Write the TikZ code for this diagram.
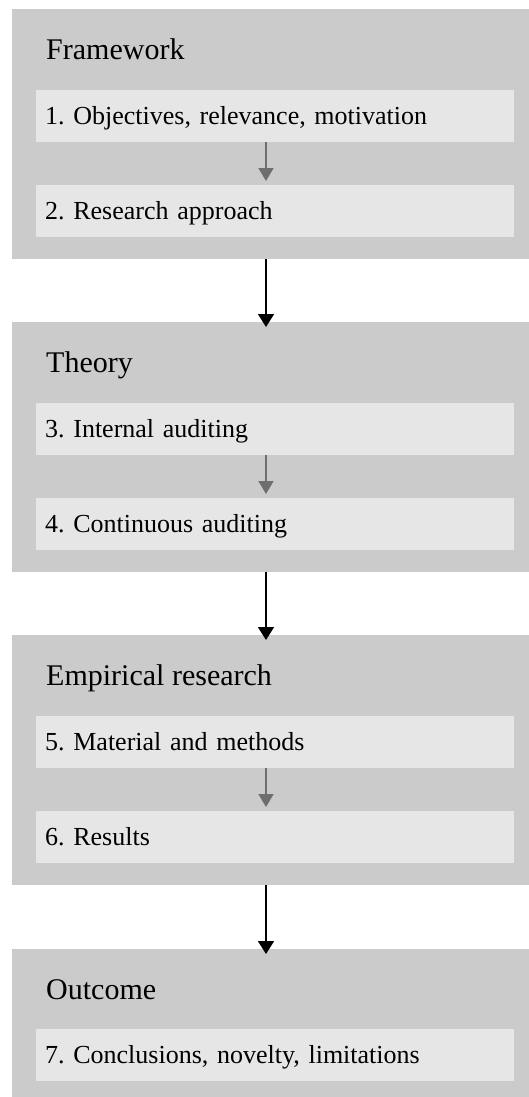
\documentclass[tikz,border=0pt]{standalone}
\usepackage{fontspec}
\setmainfont{Liberation Serif}
\usetikzlibrary{arrows.meta,calc}
\definecolor{outergray}{HTML}{CBCBCB}
\definecolor{innergray}{HTML}{E6E6E6}
\definecolor{arrowgray}{HTML}{6E6E6E}
\frenchspacing
\begin{document}
\begin{tikzpicture}[x=1pt,y=-1pt,
  outerbox/.style={fill=outergray, draw=none, anchor=north west, inner sep=0pt, minimum width=528pt, minimum height=250pt},
  innerbox/.style={fill=innergray, draw=none, anchor=north west, inner sep=0pt, minimum width=478pt, minimum height=52pt, text width=460pt, align=left, text height=17pt, text depth=0pt, font=\fontsize{26}{30}\selectfont},
  titletext/.style={anchor=base west, inner sep=0pt, font=\fontsize{30}{36}\selectfont},
  bigarrow/.style={-{Triangle[width=16pt,length=13pt]}, line width=1.6pt, black},
  smallarrow/.style={-{Triangle[width=15pt,length=13pt]}, line width=1.6pt, arrowgray, shorten >=4pt}
]
\useasboundingbox (0,0) rectangle (528,1097);
\coordinate (ax) at (266,0);

% Group 1
\node[outerbox] (g1) at (12,9) {};
\node[titletext] (t1) at (46,59.5) {Framework};
\node[innerbox] (i1) at (36,90) {1. Objectives, relevance, motivation};
\node[innerbox] (i2) at (36,185) {2. Research approach};
\draw[smallarrow] (i1.south -| ax) -- (i2.north -| ax);

% Group 2
\node[outerbox] (g2) at (12,322) {};
\node[titletext] (t2) at (46,372.5) {Theory};
\node[innerbox] (i3) at (36,403) {3. Internal auditing};
\node[innerbox] (i4) at (36,498) {4. Continuous auditing};
\draw[smallarrow] (i3.south -| ax) -- (i4.north -| ax);

% Group 3
\node[outerbox] (g3) at (12,635) {};
\node[titletext] (t3) at (46,685.5) {Empirical research};
\node[innerbox] (i5) at (36,716) {5. Material and methods};
\node[innerbox] (i6) at (36,811) {6. Results};
\draw[smallarrow] (i5.south -| ax) -- (i6.north -| ax);

% Group 4
\node[outerbox] (g4) at (12,949) {};
\node[titletext] (t4) at (46,999.5) {Outcome};
\node[innerbox] (i7) at (36,1029) {7. Conclusions, novelty, limitations};

% Connectors between groups
\draw[bigarrow] (g1.south -| ax) -- ([yshift=-5pt]g2.north -| ax);
\draw[bigarrow] (g2.south -| ax) -- ([yshift=-5pt]g3.north -| ax);
\draw[bigarrow] (g3.south -| ax) -- ([yshift=-5pt]g4.north -| ax);
\end{tikzpicture}
\end{document}
